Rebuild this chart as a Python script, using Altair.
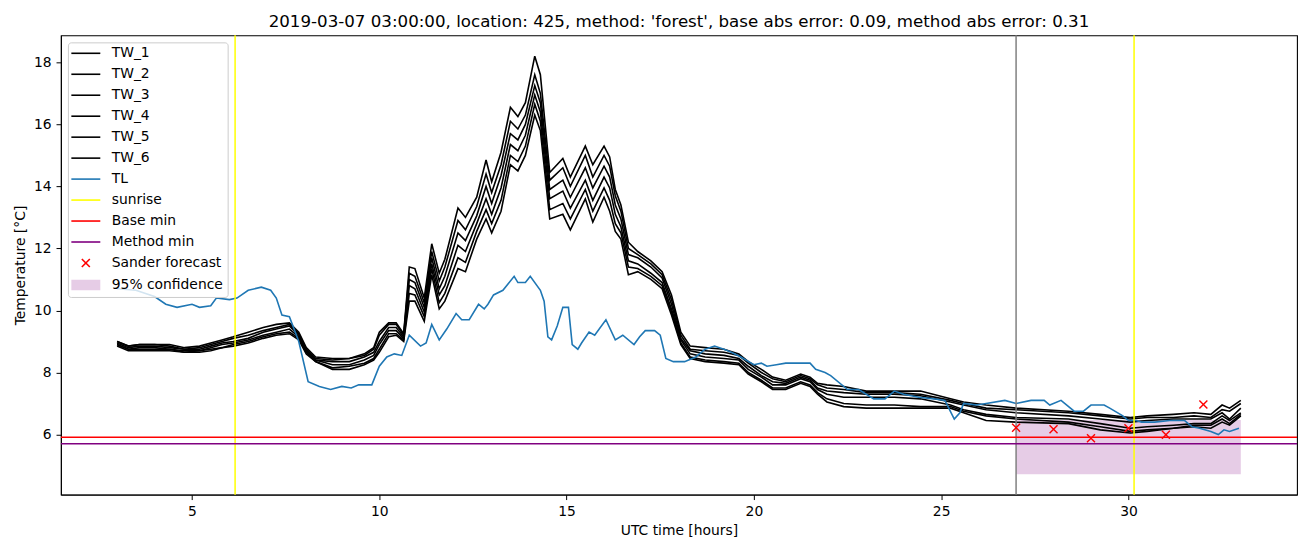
import altair as alt
import pandas as pd

# ---------------- data ----------------
hours_tw = [3.0, 3.3, 3.6, 4.0, 4.4, 4.8, 5.2, 5.5, 5.8, 6.1, 6.5, 6.9, 7.25, 7.6, 7.85, 8.05,
            8.3, 8.75, 9.2, 9.6, 9.85, 10.0, 10.25, 10.45, 10.65, 10.8, 10.95, 11.2, 11.4, 11.6,
            11.75, 12.1, 12.3, 12.6, 12.85, 13.0, 13.25, 13.5, 13.7, 13.9, 14.15, 14.3, 14.55,
            14.9, 15.1, 15.5, 15.7, 16.0, 16.15, 16.3, 16.45, 16.65, 16.9, 17.25, 17.55, 17.8,
            18.05, 18.3, 18.7, 19.2, 19.6, 19.85, 20.2, 20.5, 20.85, 21.25, 21.5, 21.7, 21.95,
            22.4, 23.0, 23.75, 24.45, 25.25, 25.6, 26.2, 27.0, 28.4, 29.25, 30.05, 30.5, 31.2,
            31.75, 32.2, 32.5, 32.7, 33.0]

tw_1 = [9.0, 8.85, 8.9, 8.9, 8.9, 8.8, 8.85, 8.95, 9.05, 9.15, 9.3, 9.45, 9.55, 9.6, 9.3, 8.8,
        8.5, 8.45, 8.45, 8.6, 8.8, 9.3, 9.6, 9.6, 9.25, 11.4, 11.35, 10.4, 12.15, 11.2,
        11.65, 13.3, 13.0, 13.65, 14.85, 14.15, 15.1, 16.55, 16.25, 16.7, 18.2, 17.6, 14.45,
        14.9, 14.3, 15.3, 14.7, 15.3, 14.95, 13.9, 13.4, 12.2, 11.9, 11.6, 11.25, 10.5,
        9.3, 8.85, 8.8, 8.75, 8.6, 8.35, 8.1, 7.85, 7.75, 7.95, 7.85, 7.65, 7.6,
        7.55, 7.4, 7.4, 7.4, 7.15, 7.05, 6.95, 6.85, 6.75, 6.65, 6.55, 6.6, 6.65,
        6.7, 6.65, 6.95, 6.85, 7.1]
tw_2 = [9.0, 8.85, 8.9, 8.9, 8.85, 8.75, 8.8, 8.9, 9.0, 9.1, 9.2, 9.35, 9.45, 9.55, 9.25, 8.75,
        8.45, 8.4, 8.45, 8.55, 8.75, 9.2, 9.55, 9.55, 9.2, 11.2, 11.1, 10.25, 11.9, 10.95,
        11.4, 12.9, 12.6, 13.35, 14.4, 13.8, 14.7, 16.1, 15.85, 16.3, 17.6, 17.0, 14.2,
        14.6, 14.0, 15.0, 14.3, 15.0, 14.65, 13.7, 13.2, 12.0, 11.8, 11.5, 11.15, 10.35,
        9.2, 8.75, 8.7, 8.65, 8.55, 8.3, 8.0, 7.8, 7.7, 7.9, 7.8, 7.6, 7.5,
        7.45, 7.35, 7.35, 7.3, 7.1, 7.0, 6.85, 6.8, 6.7, 6.6, 6.5, 6.55, 6.55,
        6.6, 6.55, 6.8, 6.75, 7.0]
tw_3 = [8.95, 8.8, 8.85, 8.85, 8.8, 8.75, 8.75, 8.85, 8.95, 9.0, 9.1, 9.3, 9.4, 9.5, 9.2, 8.7,
        8.4, 8.35, 8.35, 8.5, 8.65, 9.0, 9.45, 9.45, 9.15, 11.0, 10.9, 10.1, 11.7, 10.7,
        11.1, 12.5, 12.25, 13.05, 14.0, 13.45, 14.35, 15.7, 15.5, 16.0, 17.25, 16.7, 13.9,
        14.2, 13.65, 14.6, 13.95, 14.65, 14.3, 13.4, 12.95, 11.8, 11.7, 11.4, 11.05, 10.2,
        9.1, 8.7, 8.6, 8.55, 8.45, 8.2, 7.9, 7.7, 7.65, 7.85, 7.75, 7.5, 7.4,
        7.35, 7.3, 7.3, 7.25, 7.05, 6.95, 6.8, 6.7, 6.6, 6.5, 6.4, 6.45, 6.5,
        6.5, 6.5, 6.7, 6.5, 6.85]
tw_4 = [8.9, 8.75, 8.8, 8.8, 8.75, 8.7, 8.7, 8.8, 8.9, 8.95, 9.05, 9.2, 9.3, 9.4, 9.15, 8.7,
        8.4, 8.25, 8.25, 8.4, 8.55, 8.9, 9.35, 9.35, 9.1, 10.8, 10.7, 9.95, 11.5, 10.5,
        10.8, 12.1, 11.9, 12.8, 13.6, 13.1, 13.95, 15.35, 15.15, 15.65, 16.95, 16.4, 13.6,
        13.85, 13.3, 14.2, 13.55, 14.3, 13.95, 13.1, 12.7, 11.6, 11.5, 11.2, 10.9, 10.05,
        9.05, 8.6, 8.5, 8.45, 8.4, 8.1, 7.85, 7.6, 7.6, 7.8, 7.7, 7.45, 7.3,
        7.2, 7.2, 7.2, 7.15, 6.95, 6.8, 6.65, 6.55, 6.5, 6.35, 6.2, 6.25, 6.3,
        6.35, 6.35, 6.6, 6.45, 6.7]
tw_5 = [8.9, 8.75, 8.75, 8.75, 8.75, 8.65, 8.7, 8.75, 8.8, 8.9, 9.0, 9.15, 9.25, 9.3, 9.1, 8.65,
        8.35, 8.15, 8.2, 8.3, 8.45, 8.75, 9.25, 9.25, 9.05, 10.55, 10.5, 9.8, 11.35, 10.25,
        10.55, 11.7, 11.55, 12.55, 13.25, 12.8, 13.55, 15.0, 14.8, 15.3, 16.65, 16.1, 13.25,
        13.45, 12.95, 13.9, 13.2, 13.95, 13.55, 12.8, 12.5, 11.4, 11.35, 11.1, 10.8, 9.95,
        8.95, 8.5, 8.4, 8.35, 8.3, 8.0, 7.75, 7.5, 7.5, 7.7, 7.6, 7.35, 7.15,
        7.0, 6.95, 6.95, 6.9, 6.9, 6.75, 6.6, 6.5, 6.4, 6.25, 6.1, 6.15, 6.2,
        6.3, 6.3, 6.5, 6.35, 6.65]
tw_6 = [8.85, 8.7, 8.7, 8.7, 8.7, 8.65, 8.65, 8.7, 8.8, 8.85, 8.95, 9.1, 9.2, 9.25, 9.05, 8.6,
        8.35, 8.1, 8.1, 8.25, 8.4, 8.65, 9.15, 9.2, 9.0, 10.3, 10.3, 9.65, 11.15, 10.05,
        10.3, 11.35, 11.25, 12.3, 12.95, 12.5, 13.2, 14.7, 14.5, 15.0, 16.3, 15.8, 12.95,
        13.1, 12.6, 13.6, 12.85, 13.65, 13.2, 12.55, 12.3, 11.15, 11.25, 11.0, 10.7, 9.85,
        8.9, 8.45, 8.35, 8.3, 8.25, 7.95, 7.7, 7.45, 7.45, 7.65, 7.55, 7.3, 7.05,
        6.9, 6.85, 6.85, 6.85, 6.85, 6.7, 6.45, 6.4, 6.35, 6.15, 6.05, 6.1, 6.2,
        6.25, 6.2, 6.4, 6.3, 6.6]

hours_tl = [3.0, 3.5, 4.0, 4.3, 4.6, 5.0, 5.2, 5.5, 5.65, 6.0, 6.2, 6.5, 6.85, 7.1, 7.25, 7.4,
            7.6, 7.85, 8.1, 8.4, 8.7, 9.0, 9.25, 9.45, 9.8, 10.0, 10.2, 10.4, 10.6, 10.8, 11.1,
            11.25, 11.4, 11.6, 11.8, 12.05, 12.2, 12.4, 12.65, 12.8, 12.9, 13.05, 13.3, 13.6,
            13.7, 13.9, 14.03, 14.3, 14.4, 14.5, 14.6, 14.75, 14.9, 15.05, 15.15, 15.3, 15.4,
            15.6, 15.75, 16.05, 16.3, 16.5, 16.8, 16.95, 17.1, 17.35, 17.5, 17.65, 17.85,
            18.15, 18.45, 18.7, 18.95, 19.2, 19.4, 19.65, 20.0, 20.2, 20.35, 20.6, 20.85,
            21.25, 21.5, 21.65, 21.9, 22.05, 22.5, 22.8, 23.2, 23.5, 23.75, 24.0, 24.4, 24.8,
            25.1, 25.35, 25.5, 25.6, 25.95, 26.2, 26.7, 27.0, 27.4, 27.75, 27.9, 28.2, 28.55,
            28.8, 29.0, 29.35, 29.5, 29.85, 30.0, 30.2, 30.35, 30.7, 31.1, 31.5, 31.7, 31.9,
            32.2, 32.4, 32.55, 32.7, 32.95]
tl = [10.7, 10.65, 10.45, 10.2, 10.1, 10.2, 10.1, 10.15, 10.4, 10.35, 10.4, 10.65, 10.75, 10.65,
      10.4, 9.85, 9.8, 9.0, 7.7, 7.55, 7.45, 7.55, 7.5, 7.6, 7.6, 8.2, 8.5, 8.6, 8.55, 9.2,
      8.85, 8.95, 9.55, 9.05, 9.4, 9.9, 9.7, 9.7, 10.2, 10.05, 10.2, 10.5, 10.65, 11.1, 10.9,
      10.9, 11.1, 10.65, 10.3, 9.15, 9.05, 9.5, 10.1, 10.1, 8.9, 8.75, 8.95, 9.3, 9.2, 9.7,
      9.05, 9.2, 8.9, 9.15, 9.35, 9.35, 9.2, 8.45, 8.35, 8.35, 8.5, 8.75, 8.85, 8.75, 8.65,
      8.5, 8.25, 8.3, 8.2, 8.25, 8.3, 8.3, 8.3, 8.1, 8.0, 7.9, 7.45, 7.45, 7.15, 7.15, 7.4,
      7.3, 7.2, 7.15, 7.1, 6.5, 6.7, 7.0, 6.95, 7.0, 7.1, 7.0, 7.1, 7.1, 6.95, 7.1, 6.75,
      6.75, 6.95, 6.95, 6.85, 6.6, 6.45, 6.45, 6.4, 6.4, 6.45, 6.45, 6.25, 6.2, 6.1, 6.0,
      6.15, 6.1, 6.2]

sunrise_hours = [6.15, 30.15]
cutoff_hour = [27.0]
base_min = 5.91
method_min = 5.70
sander_hours = [27, 28, 29, 30, 31, 32]
sander_values = [6.22, 6.17, 5.88, 6.2, 5.99, 6.97]
conf_start, conf_end = 27.0, 33.0
conf_low, conf_high = 4.72, 6.47

legend_labels = ["TW_1", "TW_2", "TW_3", "TW_4", "TW_5", "TW_6", "TL", "sunrise",
                 "Base min", "Method min", "Sander forecast", "95% confidence"]
legend_colors = ["black"] * 6 + ["#1f77b4", "#ffff00", "#ff0000", "#800080", "#ff0000", "#e6cce6"]

title_text = ("2019-03-07 03:00:00, location: 425, method: 'forest', "
              "base abs error: 0.09, method abs error: 0.31")

# ---------------- frames ----------------
tw_series = [tw_1, tw_2, tw_3, tw_4, tw_5, tw_6]
tw_df = pd.concat([
    pd.DataFrame({"hour": hours_tw, "temp": vals, "series": f"TW_{i + 1}"})
    for i, vals in enumerate(tw_series)
])
tl_df = pd.DataFrame({"hour": hours_tl, "temp": tl})
sun_df = pd.DataFrame({"hour": sunrise_hours})
cut_df = pd.DataFrame({"hour": cutoff_hour})
base_df = pd.DataFrame({"temp": [base_min]})
meth_df = pd.DataFrame({"temp": [method_min]})
sander_df = pd.DataFrame({"hour": sander_hours, "temp": sander_values})
conf_df = pd.DataFrame({"x": [conf_start], "x2": [conf_end], "y": [conf_low], "y2": [conf_high]})
leg_df = pd.DataFrame({"series": legend_labels})

xscale = alt.Scale(domain=[1.5, 34.5], nice=False, zero=False)
yscale = alt.Scale(domain=[4.06, 18.87], nice=False, zero=False)

X = alt.X("hour:Q", scale=xscale,
          axis=alt.Axis(title="UTC time [hours]", values=[5, 10, 15, 20, 25, 30], format="d"))
Y = alt.Y("temp:Q", scale=yscale,
          axis=alt.Axis(title="Temperature [°C]", values=[6, 8, 10, 12, 14, 16, 18], format="d"))

conf = alt.Chart(conf_df).mark_rect(color="#800080", opacity=0.2).encode(
    x=alt.X("x:Q", scale=xscale), x2="x2:Q",
    y=alt.Y("y:Q", scale=yscale), y2="y2:Q")

tw = alt.Chart(tw_df).mark_line(color="black", strokeWidth=1.6).encode(
    x=X, y=Y, detail="series:N")

tlline = alt.Chart(tl_df).mark_line(color="#1f77b4", strokeWidth=1.6).encode(x=X, y=Y)

cut = alt.Chart(cut_df).mark_rule(color="#808080", strokeWidth=1.5).encode(x=alt.X("hour:Q", scale=xscale))
sun = alt.Chart(sun_df).mark_rule(color="#ffff00", strokeWidth=1.5).encode(x=alt.X("hour:Q", scale=xscale))
base = alt.Chart(base_df).mark_rule(color="#ff0000", strokeWidth=1.5).encode(y=alt.Y("temp:Q", scale=yscale))
meth = alt.Chart(meth_df).mark_rule(color="#800080", strokeWidth=1.5).encode(y=alt.Y("temp:Q", scale=yscale))

xpath = "M-1,-1L1,1M1,-1L-1,1"
sander = alt.Chart(sander_df).mark_point(shape=xpath, size=64, color="#ff0000",
                                         filled=False, strokeWidth=1.4, opacity=1).encode(x=X, y=Y)

# legend glyphs (drawn with strokes): line, x marker, hatched (solid) rectangle
line_sym = "M-1.5,0L4.3,0"
x_sym = "M0.6,-0.8L2.2,0.8M2.2,-0.8L0.6,0.8"
rect_sym = "".join(f"M-1.5,{v / 10:.1f}L4.3,{v / 10:.1f}" for v in range(-9, 10, 2))
legend_shapes = [line_sym] * 10 + [x_sym, rect_sym]

legend_layer = alt.Chart(leg_df).mark_point(opacity=0, filled=False).encode(
    x=alt.value(0), y=alt.value(0),
    color=alt.Color("series:N", title=None,
                    scale=alt.Scale(domain=legend_labels, range=legend_colors),
                    legend=alt.Legend(
                        orient="top-left", offset=7, padding=4, rowPadding=6,
                        symbolSize=100, symbolStrokeWidth=1.6, symbolOpacity=1,
                        labelFontSize=13.9, labelFont="DejaVu Sans", labelColor="black",
                        labelOffset=26, labelLimit=300,
                        strokeColor="#cccccc", fillColor="rgba(255,255,255,0.8)",
                        cornerRadius=3)),
    shape=alt.Shape("series:N", scale=alt.Scale(domain=legend_labels, range=legend_shapes)),
)

chart = alt.layer(conf, tw, tlline, cut, sun, base, meth, sander, legend_layer).properties(
    width=1238, height=460,
    title=alt.TitleParams(title_text, fontSize=16.7, font="DejaVu Sans", fontWeight="normal",
                          color="black", offset=2, anchor="middle"),
).configure_axis(
    grid=False, domainColor="black", tickColor="black", tickSize=4.9, labelPadding=4.9,
    labelFontSize=13.9, labelFont="DejaVu Sans", labelColor="black",
    titleFontSize=13.9, titleFont="DejaVu Sans", titleFontWeight="normal", titleColor="black",
).configure_axisX(titlePadding=5).configure_axisY(titlePadding=6).configure_view(
    stroke="black", strokeWidth=1.1
)

chart.save("out.html", embed_options={"renderer": "svg", "actions": False})
